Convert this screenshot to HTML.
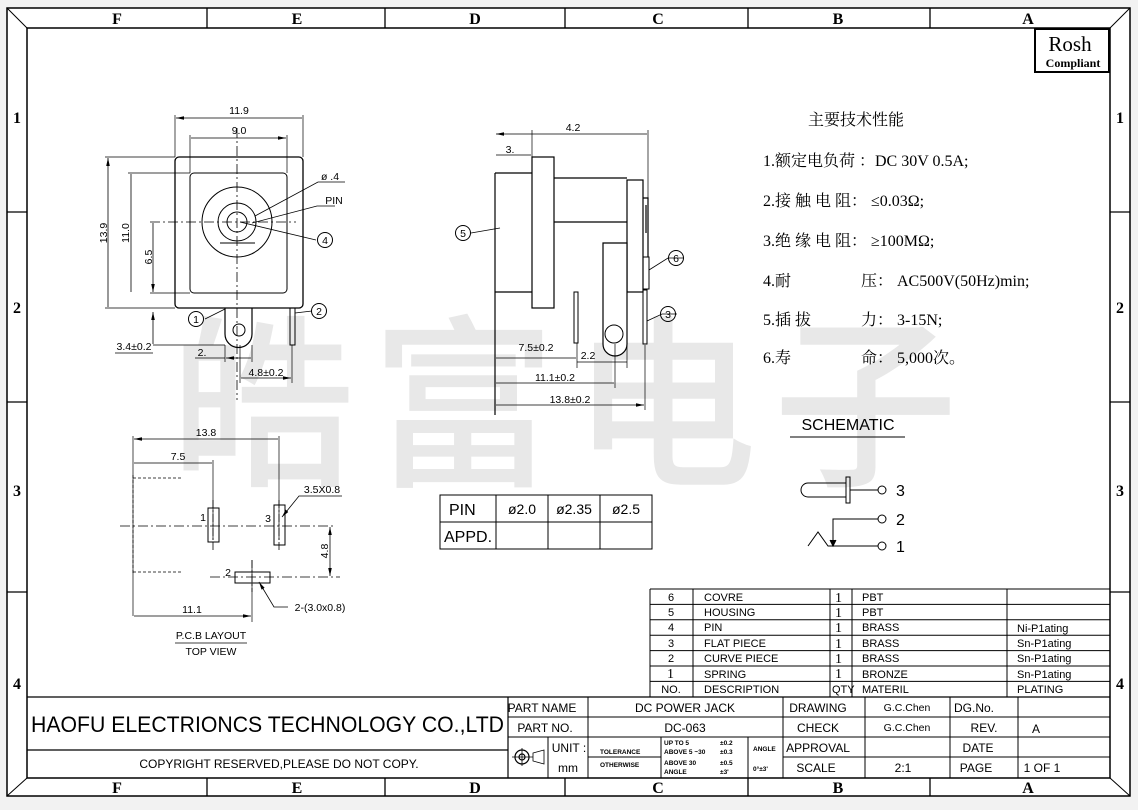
<!DOCTYPE html>
<html><head><meta charset="utf-8"><style>
html,body{margin:0;padding:0;background:#fff;}
svg{display:block;}
text{font-family:"Liberation Sans","Noto Sans CJK SC",sans-serif;fill:#000;}
.s{font-family:"Liberation Serif","Noto Serif CJK SC",serif;}
.c{font-family:"Liberation Serif","Noto Serif CJK SC","Noto Sans CJK SC",serif;}
</style></head><body>
<svg width="1138" height="810" viewBox="0 0 1138 810" xmlns="http://www.w3.org/2000/svg">
<defs>
<marker id="a" markerWidth="8" markerHeight="6" refX="8" refY="3" orient="auto-start-reverse" markerUnits="userSpaceOnUse"><path d="M0,1.2 L8,3 L0,4.8z" fill="#000"/></marker>
</defs>
<rect x="0" y="0" width="1138" height="810" fill="#f2f2f2"/>
<rect x="7" y="8" width="1123" height="788" fill="#fff" stroke="#000" stroke-width="1.5"/>
<!-- watermark -->
<text x="572" y="472" font-size="185" text-anchor="middle" style="fill:#e8e8e8" font-family="Noto Sans CJK SC, sans-serif" font-weight="500" letter-spacing="16">皓富电子</text>
<g stroke="#000" fill="none">
<rect x="27" y="28" width="1083" height="750" stroke-width="1.5"/>
<path d="M7,8 L27,28 M1130,8 L1110,28 M7,796 L27,778 M1130,796 L1110,778" stroke-width="1"/>
<path d="M207,8V28 M385,8V28 M565,8V28 M748,8V28 M930,8V28 M207,778V796 M385,778V796 M565,778V796 M748,778V796 M930,778V796" stroke-width="1.3"/>
<path d="M7,212H27 M7,402H27 M7,592H27 M1110,212H1130 M1110,402H1130 M1110,592H1130" stroke-width="1.3"/>
</g>
<g class="s" font-size="16" font-weight="bold" text-anchor="middle">
<text x="117" y="24" class="s">F</text><text x="297" y="24" class="s">E</text><text x="475" y="24" class="s">D</text><text x="658" y="24" class="s">C</text><text x="838" y="24" class="s">B</text><text x="1028" y="24" class="s">A</text>
<text x="117" y="793" class="s">F</text><text x="297" y="793" class="s">E</text><text x="475" y="793" class="s">D</text><text x="658" y="793" class="s">C</text><text x="838" y="793" class="s">B</text><text x="1028" y="793" class="s">A</text>
<text x="17" y="123" class="s">1</text><text x="17" y="313" class="s">2</text><text x="17" y="496" class="s">3</text><text x="17" y="689" class="s">4</text>
<text x="1120" y="123" class="s">1</text><text x="1120" y="313" class="s">2</text><text x="1120" y="496" class="s">3</text><text x="1120" y="689" class="s">4</text>
</g>
<!-- Rosh -->
<rect x="1035" y="29" width="74" height="43" fill="none" stroke="#000" stroke-width="2"/>
<text x="1070" y="51" font-size="21" text-anchor="middle" class="s">Rosh</text>
<text x="1073" y="67" font-size="12" font-weight="bold" text-anchor="middle" class="s">Compliant</text>
<!-- spec text -->
<g class="c" font-size="16">
<text x="808" y="125" class="c">主要技术性能</text>
<text x="763" y="166" class="c">1.额定电负荷 ：DC 30V 0.5A;</text>
<text x="763" y="206" class="c">2.接 触 电 阻：  ≤0.03Ω;</text>
<text x="763" y="246" class="c">3.绝 缘 电 阻：  ≥100MΩ;</text>
<text x="763" y="286" class="c">4.耐</text><text x="861" y="286" class="c">压：  AC500V(50Hz)min;</text>
<text x="763" y="325" class="c">5.插  拔</text><text x="861" y="325" class="c">力：  3-15N;</text>
<text x="763" y="363" class="c">6.寿</text><text x="861" y="363" class="c">命：  5,000次。</text>
</g>

<!-- FRONT VIEW -->
<g stroke="#000" fill="none" stroke-width="1">
<rect x="175" y="157" width="128" height="151" rx="4" stroke-width="1.3"/>
<rect x="190" y="173" width="97" height="120" rx="4"/>
<circle cx="237" cy="222" r="35"/><circle cx="237" cy="222" r="19"/><circle cx="237" cy="222" r="10"/>
<path d="M220,243H255"/>
<path d="M237,128V400 M150,222H296" stroke-dasharray="10,3,2,3" stroke-width="0.8"/>
<path d="M175,115V157 M303,115V157 M190,135V173 M287,135V173" stroke-width="0.7"/>
<path d="M176,118H302 M191,138H286" marker-start="url(#a)" marker-end="url(#a)" stroke-width="0.8"/>
<path d="M105,157H175 M128,173H190 M150,293H190 M105,308H175" stroke-width="0.7"/>
<path d="M108,158V307 M131,174V292 M153,223V292" marker-start="url(#a)" marker-end="url(#a)" stroke-width="0.8"/>
<path d="M225,308V334 A13.5,13.5 0 0 0 252,334 V308" stroke-width="1.2"/>
<circle cx="239" cy="330" r="6"/>
<rect x="290" y="308" width="5" height="37"/>
<path d="M153,312V344 M153,345H225 M115,353H153" marker-start="url(#a)" stroke-width="0.8"/>
<path d="M225,345V362 M252,345V362 M292,345V383 M240,345V383" stroke-width="0.7"/>
<path d="M226,358H251 M241,378H291" marker-start="url(#a)" marker-end="url(#a)" stroke-width="0.8"/>
<path d="M195,358H225" stroke-width="0.7"/>
<path d="M255,216L318,182H345 M252,223L317,206H335 M240,222L316,240 M205,319L225,309 M295,313L312,311" stroke-width="0.8"/>
<circle cx="325" cy="240" r="7.5"/><circle cx="196" cy="319" r="7.5"/><circle cx="319" cy="311" r="7.5"/>
</g>
<g font-size="10.5" text-anchor="middle">
<text x="239" y="114">11.9</text><text x="239" y="134">9.0</text>
<text x="107" y="233" transform="rotate(-90 107 233)">13.9</text>
<text x="129" y="233" transform="rotate(-90 129 233)">11.0</text>
<text x="152" y="257" transform="rotate(-90 152 257)">6.5</text>
<text x="134" y="350">3.4±0.2</text><text x="202" y="356">2.</text><text x="266" y="376">4.8±0.2</text>
<text x="330" y="180">ø .4</text><text x="334" y="204">PIN</text>
<text x="325" y="244">4</text><text x="196" y="323">1</text><text x="319" y="315">2</text>
</g>

<!-- SIDE VIEW -->
<g stroke="#000" fill="none" stroke-width="1">
<path d="M495,173H532 M495,173V415 M495,292H532" stroke-width="1.2"/>
<rect x="532" y="157" width="22" height="151" stroke-width="1.2"/>
<path d="M554,178H627 M554,222H627" stroke-width="1.2"/>
<rect x="627" y="180" width="16" height="112" stroke-width="1.2"/>
<rect x="574" y="292" width="4" height="51"/>
<path d="M603,292V243H627V344 A12,12 0 0 1 603,344Z" fill="#fff" stroke-width="1.2"/>
<circle cx="614" cy="334" r="9"/>
<path d="M643,198H648V257 M646,205V233" stroke-width="1.2"/>
<rect x="643" y="257" width="6" height="32"/>
<rect x="643" y="290" width="4" height="54"/>
<path d="M532,130V157 M648,130V198 M615,344V388 M577,343V368 M627,345V368 M645,345V410" stroke-width="0.7"/>
<path d="M496,134H647 M496,155H531 M496,358H576 M496,383H614 M496,405H644" marker-start="url(#a)" marker-end="url(#a)" stroke-width="0.8"/>
<path d="M577,362H627" stroke-width="0.7"/>
<path d="M471,233L500,228 M684,258H668L649,270 M677,314H662L647,321" stroke-width="0.8"/>
<circle cx="463" cy="233" r="7.5"/><circle cx="676" cy="258" r="7.5"/><circle cx="668" cy="314" r="7.5"/>
</g>
<g font-size="10.5" text-anchor="middle">
<text x="573" y="131">4.2</text><text x="510" y="153">3.</text>
<text x="536" y="351">7.5±0.2</text><text x="588" y="359">2.2</text>
<text x="555" y="381">11.1±0.2</text><text x="570" y="403">13.8±0.2</text>
<text x="463" y="237">5</text><text x="676" y="262">6</text><text x="668" y="318">3</text>
</g>

<!-- PCB LAYOUT -->
<g stroke="#000" fill="none" stroke-width="0.8">
<path d="M133,436V616 M213,460V540 M279,436V540 M252,560V622" stroke-width="0.7"/>
<path d="M134,439H278 M134,463H212 M134,616H251" marker-start="url(#a)" marker-end="url(#a)"/>
<path d="M133,475V573 M133,478H182 M133,572H182" stroke-dasharray="3,2"/>
<path d="M120,526H333 M210,577H340" stroke-dasharray="10,3,2,3"/>
<rect x="208" y="508" width="11" height="34" stroke-width="1"/>
<rect x="274" y="505" width="11" height="40" stroke-width="1"/>
<rect x="235" y="572" width="35" height="11" stroke-width="1"/>
<path d="M213,500V550 M279,500V550 M252,560V592" stroke-dasharray="8,2,2,2"/>
<path d="M330,527V576" marker-start="url(#a)" marker-end="url(#a)"/>
<path d="M342,496H299L282,517" marker-end="url(#a)"/>
<path d="M288,607H274L259,582" marker-end="url(#a)"/>
<path d="M175,643H247" />
</g>
<g font-size="10.5" text-anchor="middle">
<text x="206" y="436">13.8</text><text x="178" y="460">7.5</text><text x="192" y="613">11.1</text>
<text x="203" y="521">1</text><text x="268" y="522">3</text><text x="228" y="576">2</text>
<text x="322" y="493">3.5X0.8</text><text x="320" y="611">2-(3.0x0.8)</text>
<text x="328" y="551" transform="rotate(-90 328 551)">4.8</text>
<text x="211" y="639">P.C.B  LAYOUT</text><text x="211" y="655">TOP  VIEW</text>
</g>

<!-- PIN table -->
<g stroke="#000" fill="none" stroke-width="1">
<rect x="440" y="495" width="212" height="54"/>
<path d="M440,522H652 M496,495V549 M548,495V549 M600,495V549"/>
</g>
<g font-size="16"><text x="449" y="515">PIN</text><text x="444" y="542">APPD.</text></g>
<g font-size="14" text-anchor="middle"><text x="522" y="514">ø2.0</text><text x="574" y="514">ø2.35</text><text x="626" y="514">ø2.5</text></g>

<!-- SCHEMATIC -->
<text x="848" y="430" font-size="16" text-anchor="middle">SCHEMATIC</text>
<g stroke="#000" fill="none" stroke-width="1">
<path d="M790,437H905"/>
<path d="M846,483H808A7,7 0 0 0 808,497H846"/>
<rect x="846" y="477" width="4" height="26"/>
<path d="M850,490H878 M878,519H833V545 M808,546L818,532L828,546H878"/>
<path d="M830,540L833,546L836,540" fill="#000"/>
<circle cx="882" cy="490" r="4"/><circle cx="882" cy="519" r="4"/><circle cx="882" cy="546" r="4"/>
</g>
<g font-size="16"><text x="896" y="496">3</text><text x="896" y="525">2</text><text x="896" y="552">1</text></g>

<!-- Parts list -->
<g stroke="#000" fill="none" stroke-width="1">
<path d="M650,589H1110 M650,589V697 M693,589V697 M830,589V697 M852,589V697 M1007,589V697"/>
<path d="M650,604.4H1110 M650,619.8H1110 M650,635.2H1110 M650,650.6H1110 M650,666H1110 M650,681.4H1110"/>
</g>
<g font-size="11">
<text x="671" y="601" text-anchor="middle">6</text><text x="704" y="601">COVRE</text><text x="835" y="602" class="s" font-size="14">1</text><text x="862" y="601">PBT</text>
<text x="671" y="616" text-anchor="middle">5</text><text x="704" y="616">HOUSING</text><text x="835" y="617" class="s" font-size="14">1</text><text x="862" y="616">PBT</text>
<text x="671" y="631" text-anchor="middle">4</text><text x="704" y="631">PIN</text><text x="835" y="632" class="s" font-size="14">1</text><text x="862" y="631">BRASS</text><text x="1017" y="632">Ni-P1ating</text>
<text x="671" y="647" text-anchor="middle">3</text><text x="704" y="647">FLAT  PIECE</text><text x="835" y="648" class="s" font-size="14">1</text><text x="862" y="647">BRASS</text><text x="1017" y="647">Sn-P1ating</text>
<text x="671" y="662" text-anchor="middle">2</text><text x="704" y="662">CURVE  PIECE</text><text x="835" y="663" class="s" font-size="14">1</text><text x="862" y="662">BRASS</text><text x="1017" y="662">Sn-P1ating</text>
<text x="667" y="678" class="s" font-size="14">1</text><text x="704" y="678">SPRING</text><text x="835" y="678" class="s" font-size="14">1</text><text x="862" y="678">BRONZE</text><text x="1017" y="678">Sn-P1ating</text>
<text x="671" y="693" text-anchor="middle">NO.</text><text x="704" y="693">DESCRIPTION</text><text x="832" y="693">QTY</text><text x="862" y="693">MATERIL</text><text x="1017" y="693">PLATING</text>
</g>

<!-- Title block -->
<g stroke="#000" fill="none" stroke-width="1.2">
<path d="M27,697H1110 M27,750H508 M508,697V778"/>
<path d="M508,717H1110 M508,737H1110 M588,757H661 M783,757H1110" stroke-width="1"/>
<path d="M588,697V778 M783,697V778 M865,697V778 M950,697V778 M1018,697V778 M548,737V778 M661,737V778 M748,737V778" stroke-width="1"/>
<circle cx="522" cy="757" r="7"/><circle cx="522" cy="757" r="3"/>
<path d="M512,757H533 M522,748V766 M533,753L544,750V764L533,761Z" stroke-width="0.8"/>
</g>
<text x="31" y="732" font-size="22" textLength="473" lengthAdjust="spacingAndGlyphs">HAOFU ELECTRIONCS TECHNOLOGY CO.,LTD</text>
<text x="279" y="768" font-size="12" text-anchor="middle">COPYRIGHT RESERVED,PLEASE DO NOT COPY.</text>
<g font-size="12" text-anchor="middle">
<text x="542" y="712">PART NAME</text><text x="685" y="712">DC POWER JACK</text><text x="818" y="712">DRAWING</text><text x="907" y="711" font-size="10.5">G.C.Chen</text><text x="974" y="712">DG.No.</text>
<text x="545" y="732">PART NO.</text><text x="685" y="732">DC-063</text><text x="818" y="732">CHECK</text><text x="907" y="731" font-size="10.5">G.C.Chen</text><text x="984" y="732">REV.</text><text x="1036" y="733">A</text>
<text x="569" y="752">UNIT :</text><text x="568" y="772">mm</text><text x="818" y="752">APPROVAL</text><text x="978" y="752">DATE</text>
<text x="816" y="772">SCALE</text><text x="903" y="772">2:1</text><text x="976" y="772">PAGE</text><text x="1042" y="772">1  OF  1</text>
</g>
<g font-size="6.5" font-weight="bold">
<text x="600" y="754">TOLERANCE</text><text x="600" y="767">OTHERWISE</text>
<text x="664" y="745">UP TO 5</text><text x="720" y="745">±0.2</text>
<text x="664" y="754">ABOVE 5 ~30</text><text x="720" y="754">±0.3</text>
<text x="664" y="765">ABOVE 30</text><text x="720" y="765">±0.5</text>
<text x="664" y="774">ANGLE</text><text x="720" y="774">±3'</text>
<text x="753" y="751">ANGLE</text><text x="753" y="771">0°±3'</text>
</g>
</svg>
</body></html>
